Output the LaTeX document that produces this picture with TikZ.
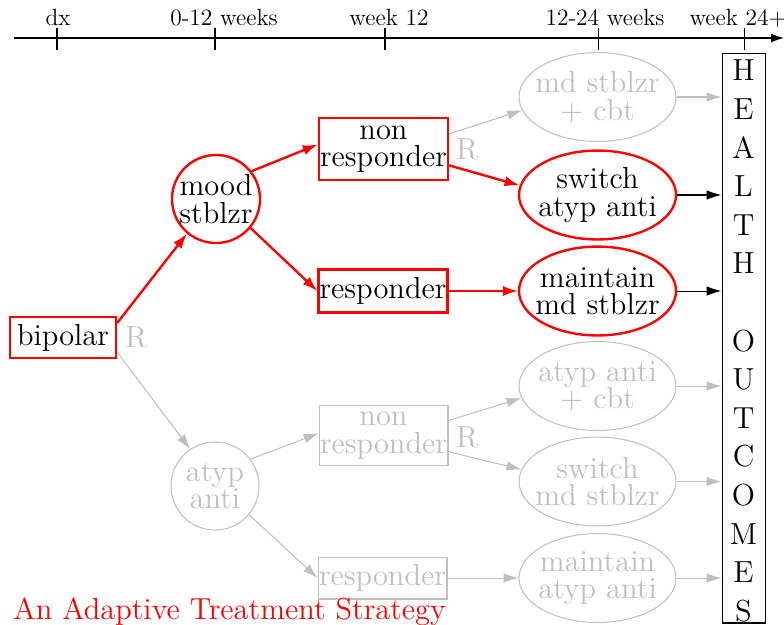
\documentclass[tikz,border=0pt]{standalone}
\usetikzlibrary{arrows.meta, shapes.geometric}
% zero-width line so that the shape size comes from the minimum sizes only
\newcommand\zw[1]{\makebox[0pt]{#1}}
\begin{document}
\begin{tikzpicture}[x=0.486pt, y=-0.486pt,
  txt/.style={font=\fontsize{14.8}{13.3}\selectfont},
  lbl/.style={font=\fontsize{11.4}{13}\selectfont, inner sep=0pt},
  onpath/.style={draw=red, line width=1.15pt, text=black},
  offpath/.style={draw=gray!50, line width=0.5pt, text=gray!50},
  box/.style={rectangle, txt, align=center, inner xsep=0.5pt, inner ysep=0pt, minimum width=61.7pt},
  circ/.style={circle, txt, align=center, inner sep=0pt, minimum size=42.8pt},
  oval/.style={ellipse, txt, align=center, inner sep=0pt, minimum width=76.3pt, minimum height=43.2pt},
  redarrow/.style={red, line width=1.15pt, -{Latex[length=7.3pt,width=5pt]}},
  grayarrow/.style={gray!50, line width=0.5pt, -{Latex[length=7.2pt,width=4.6pt]}},
  blackarrow/.style={black, line width=0.5pt, -{Latex[length=7.2pt,width=4.6pt]}},
  rmark/.style={txt, text=gray!50, inner sep=0pt},
]
\useasboundingbox (0,0) rectangle (784,624);

% time axis
\coordinate (axstart) at (14,38);
\coordinate (axend) at (784,38);
\draw[line width=0.6pt, -{Latex[length=6.3pt,width=4.4pt]}] (axstart) -- (axend);
\foreach \x in {57,215,385,598,744} \draw[line width=0.5pt] (\x,28) -- (\x,50);
\node[lbl, anchor=base] (tdx)   at (58,25)  {dx};
\node[lbl, anchor=base] (t012)  at (224,25) {0-12 weeks};
\node[lbl, anchor=base] (t12)   at (389,25) {week 12};
\node[lbl, anchor=base] (t1224) at (605,25) {12-24 weeks};
\node[lbl, anchor=base] (t24)   at (738,25) {week 24+};

% stage one
\node[box, onpath, minimum width=51.5pt, minimum height=19.9pt] (bipolar) at (63,337.5) {bipolar};
\node[circ, onpath] (mood) at (216,199) {\zw{mood}\\\zw{stblzr}};
\node[circ, offpath] (atyp) at (215,486) {\zw{atyp}\\\zw{anti}};

% response
\node[box, onpath, minimum height=30.1pt] (nr) at (383.5,149) {non\\responder};
\node[box, onpath, minimum height=20.9pt] (resp) at (383,291) {responder};
\node[box, offpath, minimum height=29.6pt] (gnr) at (383.5,435.5) {non\\responder};
\node[box, offpath, minimum height=20.4pt, minimum width=60.8pt] (gresp) at (382.5,578) {responder};

% stage two
\node[oval, offpath] (md) at (597.5,97)    {\zw{md stblzr}\\\zw{+ cbt}};
\node[oval, onpath]  (sw) at (597.5,195)   {\zw{switch}\\\zw{atyp anti}};
\node[oval, onpath]  (mm) at (597.5,291)   {\zw{maintain}\\\zw{md stblzr}};
\node[oval, offpath] (ac) at (597.5,386)   {\zw{atyp anti}\\\zw{+ cbt}};
\node[oval, offpath] (sm) at (597.5,481.5) {\zw{switch}\\\zw{md stblzr}};
\node[oval, offpath] (ma) at (597.5,578)   {\zw{maintain}\\\zw{atyp anti}};

% outcomes
\node[draw, line width=0.5pt, minimum width=20.9pt, minimum height=277pt, inner sep=0pt] (health) at (743.5,338) {};
\node[font=\fontsize{14.8}{18.76}\selectfont, align=center, inner sep=0pt] (healthtext) at (743.5,341)
  {H\\E\\A\\L\\T\\H\\[18.76pt]O\\U\\T\\C\\O\\M\\E\\S};

% randomisation marks
\node[rmark] (r0) at (136,337) {R};
\node[rmark] (r1) at (467,149) {R};
\node[rmark] (r2) at (467,437) {R};

% connectors
\draw[redarrow] (bipolar.15) -- (mood.230);
\draw[grayarrow] (bipolar.-15) -- (atyp.124);
\draw[redarrow] (mood.38) -- (nr.176);
\draw[redarrow] (mood.-40) -- (resp.west);
\draw[grayarrow] (atyp.37) -- (gnr.178);
\draw[grayarrow] (atyp.-40) -- (gresp.west);
\draw[grayarrow] (nr.13) -- (md.190);
\draw[redarrow] (nr.-14) -- (sw.173);
\draw[redarrow] (resp.east) -- (mm.west);
\draw[grayarrow] (gnr.13) -- (ac.189);
\draw[grayarrow] (gnr.-14) -- (sm.171);
\draw[grayarrow] (gresp.east) -- (ma.west);
\foreach \n in {md,ac,sm,ma} \draw[grayarrow] (\n.east) -- (\n.east -| health.west);
\foreach \n in {sw,mm} \draw[blackarrow] (\n.east) -- (\n.east -| health.west);

% caption
\node[txt, text=red, anchor=base west, inner sep=0pt] (title) at (13,619) {An Adaptive Treatment Strategy};
\end{tikzpicture}
\end{document}
